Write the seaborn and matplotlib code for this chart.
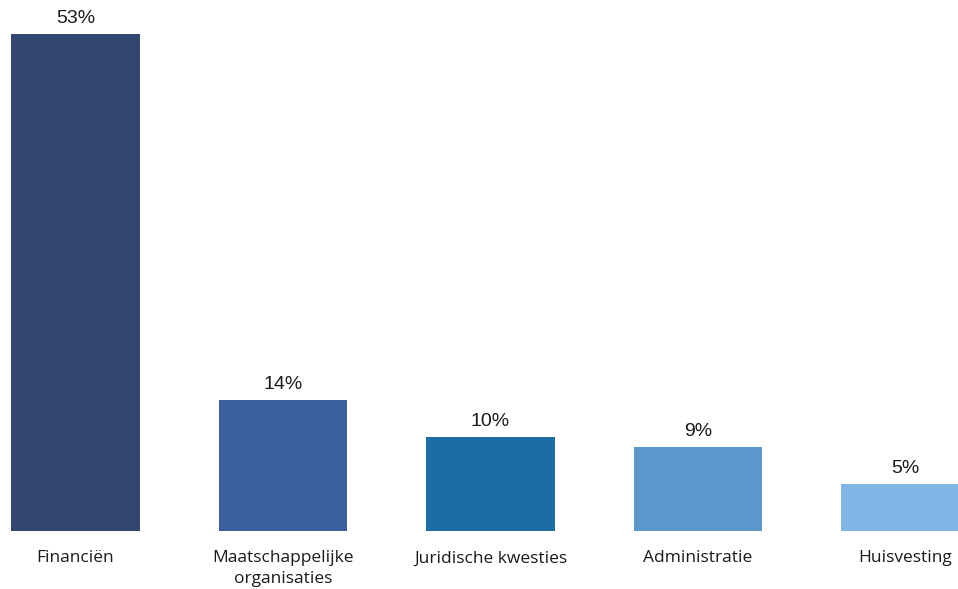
import matplotlib
matplotlib.use("Agg")
import matplotlib.pyplot as plt
import seaborn as sns
import pandas as pd

categories = ["Financiën", "Maatschappelijke\norganisaties", "Juridische kwesties", "Administratie", "Huisvesting"]
values = [53, 14, 10, 9, 5]
colors = ["#33466F", "#3B5F9F", "#1C6DA3", "#5B98CC", "#80B6E6"]

sns.set_theme(style="white")
plt.rcParams['font.family'] = ['Open Sans', 'DejaVu Sans']

df = pd.DataFrame({"cat": categories, "val": values})

fig = plt.figure(figsize=(9.58, 5.89), dpi=100)
ax = fig.add_axes([0, 58 / 589, 1, 531 / 589])
sns.barplot(data=df, x="cat", y="val", hue="cat", palette=colors, width=0.62,
            legend=False, ax=ax, saturation=1, linewidth=0)

ax.set_xlim(-75.5 / 207.5, (958 - 75.5) / 207.5)
ax.set_ylim(0, 531 / 9.38)
for s in ax.spines.values():
    s.set_visible(False)
ax.set_yticks([])
ax.set_xlabel("")
ax.set_ylabel("")
ax.tick_params(axis="x", length=0, pad=14, labelsize=12.5, labelcolor="#1a1a1a")
for lbl in ax.get_xticklabels():
    lbl.set_linespacing(1.4)

for c in ax.containers:
    ax.bar_label(c, labels=[f"{v:.0f}%" for v in c.datavalues], padding=5,
                 fontsize=14, color="#1a1a1a", family=["Liberation Sans", "DejaVu Sans"])

fig.savefig("out.png", dpi=100)
